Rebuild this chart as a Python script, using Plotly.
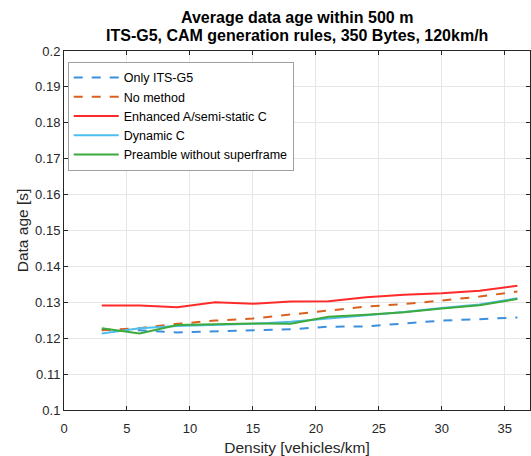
import plotly.graph_objects as go

density = [3, 6, 9, 12, 15, 18, 21, 24, 27, 30, 33, 36]
only_its_g5 = [0.1223, 0.1222, 0.1216, 0.1219, 0.1220, 0.1225, 0.1232, 0.1233, 0.1241, 0.1249, 0.1253, 0.1258]
no_method = [0.1222, 0.1228, 0.1240, 0.1249, 0.1255, 0.1267, 0.1277, 0.1288, 0.1295, 0.1305, 0.1316, 0.1330]
enhanced_a = [0.1291, 0.1291, 0.1286, 0.1300, 0.1296, 0.1302, 0.1303, 0.1314, 0.1321, 0.1325, 0.1332, 0.1346]
dynamic_c = [0.1213, 0.1228, 0.1234, 0.1237, 0.1240, 0.1246, 0.1255, 0.1262, 0.1273, 0.1284, 0.1294, 0.1311]
preamble = [0.1228, 0.1213, 0.1237, 0.1240, 0.1241, 0.1240, 0.1260, 0.1265, 0.1272, 0.1283, 0.1292, 0.1309]

title_lines = ["Average data age within 500 m",
               "ITS-G5, CAM generation rules, 350 Bytes, 120km/h"]

series = [
    ("Only ITS-G5", only_its_g5, "#3C8FDC", "dash"),
    ("No method", no_method, "#D9601E", "dash"),
    ("Enhanced A/semi-static C", enhanced_a, "#FF2A2A", "solid"),
    ("Dynamic C", dynamic_c, "#4DBEEE", "solid"),
    ("Preamble without superframe", preamble, "#3DAA3D", "solid"),
]

fig = go.Figure()
for name, ys, color, dash in series:
    fig.add_trace(go.Scatter(x=density, y=ys, mode="lines", name=name,
                             line=dict(color=color, width=2, dash=dash)))

font_family = "Liberation Sans, Arial, sans-serif"
axis_common = dict(
    showline=True, linecolor="#262626", linewidth=1, mirror="ticks",
    ticks="inside", ticklen=4, tickcolor="#262626",
    showgrid=True, gridcolor="#E6E6E6", gridwidth=1, zeroline=False,
    tickfont=dict(family=font_family, size=13, color="#262626"),
    automargin=False,
)

fig.update_layout(
    width=531, height=456,
    margin=dict(l=64, r=1, t=51, b=46),
    paper_bgcolor="white", plot_bgcolor="white",
    font=dict(family=font_family, size=12, color="#262626"),
    xaxis=dict(range=[0, 37], tickvals=[0, 5, 10, 15, 20, 25, 30, 35],
               ticklabelstandoff=6,
               title=dict(text="Density [vehicles/km]", standoff=12,
                          font=dict(family=font_family, size=15.5, color="#262626")),
               **axis_common),
    yaxis=dict(range=[0.1, 0.2], dtick=0.01, tickformat="~g",
               title=dict(text="Data age [s]", standoff=2,
                          font=dict(family=font_family, size=15.5, color="#262626")),
               **axis_common),
    legend=dict(x=0.008, y=0.97, xanchor="left", yanchor="top",
                bgcolor="white", bordercolor="#A0A0A0", borderwidth=1,
                font=dict(family=font_family, size=12.5, color="#000000"),
                tracegroupgap=0, itemwidth=45),
    showlegend=True,
)

for i, line in enumerate(title_lines):
    fig.add_annotation(text="<b>" + line + "</b>", xref="paper", yref="paper",
                       x=0.5, y=1 + (51 - (17 + 18 * i)) / 359.0,
                       xanchor="center", yanchor="middle", showarrow=False,
                       font=dict(family=font_family, size=16, color="#000000"))

fig.write_html("out.html")
